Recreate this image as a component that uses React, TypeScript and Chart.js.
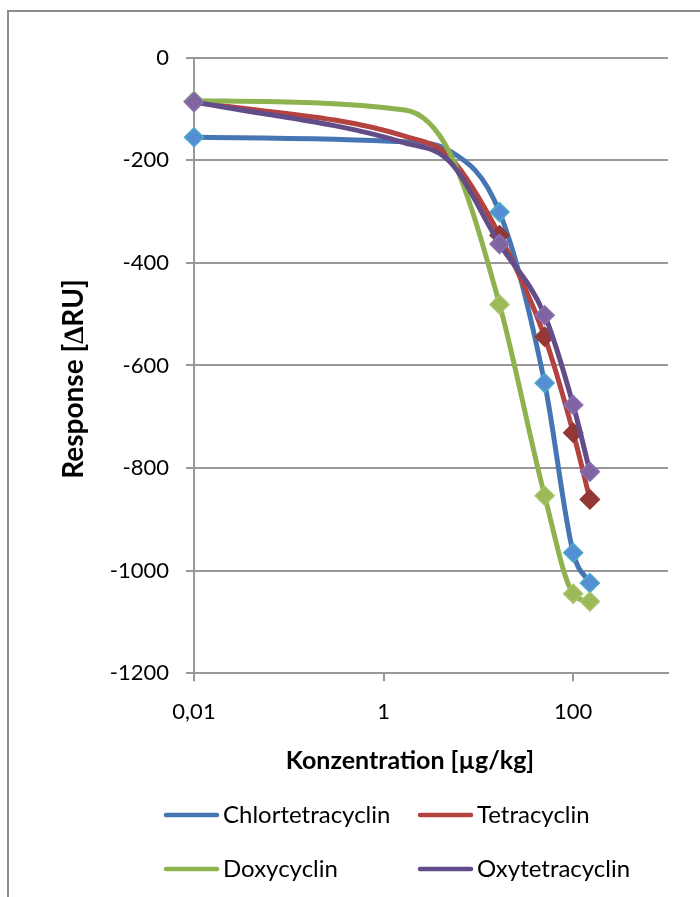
import React, { useEffect, useRef } from 'react';
import { Chart, registerables } from 'chart.js';

Chart.register(...registerables);

// ---- data ----
const concentrations = [0.01, 1.67, 5, 16.7, 50, 100, 150];
const markerShown = [true, false, false, true, true, true, true];
const seriesNames = ['Chlortetracyclin', 'Tetracyclin', 'Doxycyclin', 'Oxytetracyclin'];
const chlortetracyclin = [-155, -164, -182, -301, -634, -965, -1024];
const tetracyclin = [-86, -153, -194, -346, -544, -731, -861];
const doxycyclin = [-84, -102, -186, -481, -854, -1045, -1060];
const oxytetracyclin = [-86, -166, -203, -363, -502, -677, -807];
const seriesValues = [chlortetracyclin, tetracyclin, doxycyclin, oxytetracyclin];
const xTickValues = [0.01, 1, 100];
const xTickLabels = ['0,01', '1', '100'];
const xTitle = 'Konzentration [µg/kg]';
const yTitle = 'Response [∆RU]';

// ---- styles ----
const lineColors = ['#4675B4', '#B4423F', '#8DB24E', '#624D88'];
const markerFill = ['#558ED5', '#953735', '#9BBB59', '#8064A2'];
const markerBorder = ['#4BACC6', '#953735', '#A8C46A', '#8B70AF'];
const FONT = 'Lato';
const GRID = '#989898';

const decorPlugin = {
  id: 'decor',
  beforeDraw(chart: any) {
    const ctx = chart.ctx;
    ctx.save();
    ctx.fillStyle = '#ffffff';
    ctx.fillRect(0, 0, chart.width, chart.height);
    ctx.restore();
  },
  afterDraw(chart: any) {
    const ctx = chart.ctx;
    ctx.save();
    // outer frame
    ctx.strokeStyle = '#8C8C8C';
    ctx.lineWidth = 2;
    ctx.beginPath();
    ctx.moveTo(8, chart.height + 5);
    ctx.lineTo(8, 11);
    ctx.lineTo(chart.width + 5, 11);
    ctx.stroke();

    // axis titles
    ctx.fillStyle = '#000';
    ctx.textAlign = 'center';
    ctx.textBaseline = 'middle';
    ctx.font = `bold 25px ${FONT}`;
    ctx.fillText(xTitle, 410, 761);
    ctx.save();
    ctx.translate(74, 379);
    ctx.rotate(-Math.PI / 2);
    ctx.font = `bold 28px ${FONT}`;
    ctx.fillText(yTitle, 0, 0);
    ctx.restore();

    // legend (2 x 2 grid)
    const cols = [164, 418];
    const rows = [815, 869];
    ctx.font = `24px ${FONT}`;
    ctx.textAlign = 'left';
    seriesNames.forEach((name, i) => {
      const cx = cols[i % 2];
      const cy = rows[Math.floor(i / 2)];
      ctx.strokeStyle = lineColors[i];
      ctx.lineWidth = 4.5;
      ctx.lineCap = 'round';
      ctx.beginPath();
      ctx.moveTo(cx + 2, cy);
      ctx.lineTo(cx + 53, cy);
      ctx.stroke();
      ctx.fillStyle = '#000';
      ctx.fillText(name, cx + 59, cy);
    });
    ctx.restore();
  },
};

export default function App() {
  const ref = useRef<HTMLCanvasElement>(null);

  useEffect(() => {
    if (!ref.current) return;
    const datasets = seriesValues.map((vals, i) => ({
      label: seriesNames[i],
      data: concentrations.map((c, j) => ({ x: c, y: vals[j] })),
      borderColor: lineColors[i],
      backgroundColor: lineColors[i],
      borderWidth: 5,
      borderCapStyle: 'round' as const,
      borderJoinStyle: 'round' as const,
      cubicInterpolationMode: 'monotone' as const,
      fill: false,
      clip: false as const,
      pointStyle: 'rectRot' as const,
      pointRadius: markerShown.map((s) => (s ? 9.5 : 0)),
      pointHoverRadius: markerShown.map((s) => (s ? 9.5 : 0)),
      pointBackgroundColor: markerFill[i],
      pointBorderColor: markerBorder[i],
      pointBorderWidth: 1.5,
      order: seriesValues.length - 1 - i,
    }));

    const chart = new Chart(ref.current, {
      type: 'line',
      data: { datasets },
      options: {
        animation: false,
        responsive: false,
        events: [],
        layout: { padding: { top: 57.7, right: 32, left: 0, bottom: 0 } },
        plugins: {
          legend: { display: false },
          tooltip: { enabled: false },
          title: { display: false },
        },
        scales: {
          x: {
            type: 'logarithmic',
            min: 0.01,
            max: 1000,
            afterBuildTicks: (s: any) => {
              s.ticks = xTickValues.map((v) => ({ value: v }));
            },
            afterFit: (s: any) => {
              s.height = 897 - 673.3;
            },
            ticks: {
              autoSkip: false,
              maxRotation: 0,
              padding: 17,
              color: '#000',
              font: { family: FONT, size: 22 },
              callback: (v: any) => {
                const k = xTickValues.findIndex((t) => Math.abs(t - Number(v)) < 1e-9);
                return k >= 0 ? xTickLabels[k] : '';
              },
            },
            grid: { drawOnChartArea: false, drawTicks: true, tickLength: 8, color: GRID, lineWidth: 2 },
            border: { display: true, color: GRID, width: 2 },
          },
          y: {
            type: 'linear',
            min: -1200,
            max: 0,
            afterFit: (s: any) => {
              s.width = 194;
            },
            ticks: {
              stepSize: 200,
              padding: 17,
              color: '#000',
              font: { family: FONT, size: 22 },
              callback: (v: any) => String(v),
            },
            grid: { drawTicks: true, tickLength: 8, color: GRID, lineWidth: 2 },
            border: { display: true, color: GRID, width: 2 },
          },
        },
      },
      plugins: [decorPlugin],
    });
    return () => chart.destroy();
  }, []);

  return (
    <div style={{ position: 'absolute', left: 0, top: 0, width: 700, height: 897, background: '#fff' }}>
      <canvas ref={ref} width={700} height={897} style={{ display: 'block' }} />
    </div>
  );
}
